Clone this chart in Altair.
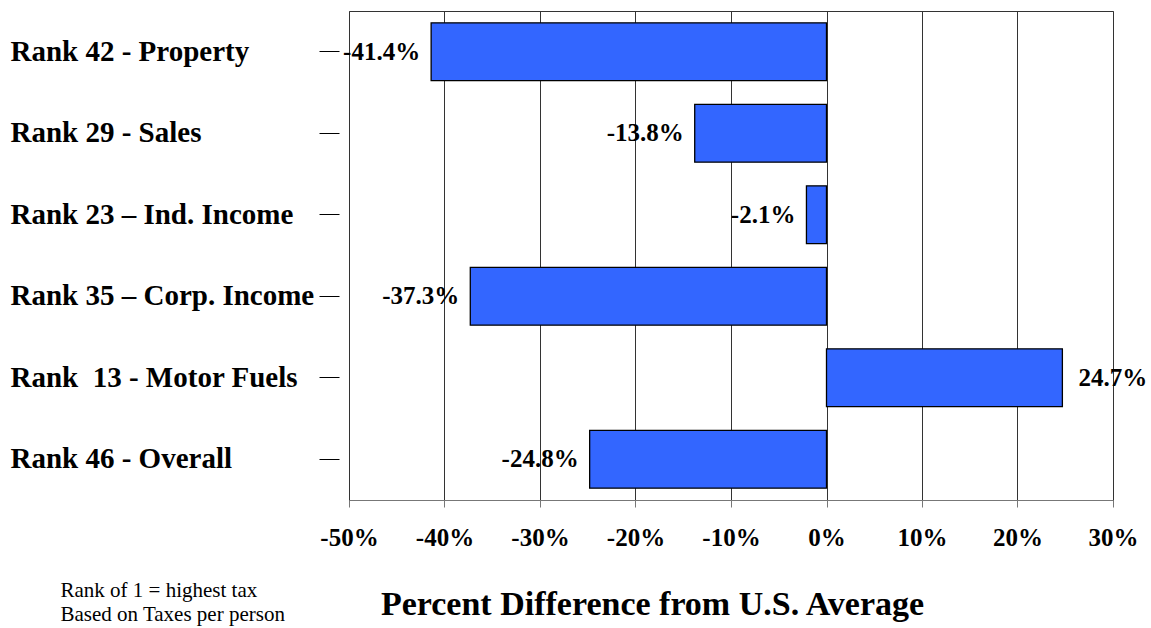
import altair as alt
import pandas as pd

categories = [
    "Rank 42 - Property",
    "Rank 29 - Sales",
    "Rank 23 \u2013 Ind. Income",
    "Rank 35 \u2013 Corp. Income",
    "Rank\u00a0 13 - Motor Fuels",
    "Rank 46 - Overall",
]
values = [-0.414, -0.138, -0.021, -0.373, 0.247, -0.248]
labels = ["-41.4%", "-13.8%", "-2.1%", "-37.3%", "24.7%", "-24.8%"]
tick_values = [-0.5, -0.4, -0.3, -0.2, -0.1, 0.0, 0.1, 0.2, 0.3]

df = pd.DataFrame({"cat": categories, "val": values, "lab": labels})

FONT = "Liberation Serif"

x = alt.X(
    "val:Q",
    scale=alt.Scale(domain=[-0.5, 0.3], nice=False, zero=False),
    axis=alt.Axis(
        values=tick_values,
        labelExpr="round(datum.value*100) + '%'",
        labelFont=FONT,
        labelFontSize=25,
        labelFontWeight="bold",
        labelColor="black",
        labelBaseline="alphabetic",
        labelPadding=38,
        labelFlush=False,
        labelOverlap=False,
        tickSize=7,
        tickColor="#777",
        domainColor="#777",
        grid=True,
        gridColor="#333",
        gridOpacity=1,
        gridWidth=1,
        title="Percent Difference from U.S. Average",
        titleFont=FONT,
        titleFontSize=34,
        titleFontWeight="bold",
        titleColor="black",
        titleX=303,
        titleY=114,
        titleAlign="center",
        titleBaseline="alphabetic",
    ),
)

y = alt.Y(
    "cat:N",
    sort=categories,
    scale=alt.Scale(paddingInner=0.29, paddingOuter=0.145),
    axis=alt.Axis(
        domain=False,
        offset=10,
        tickSize=20,
        tickColor="black",
        tickWidth=1,
        grid=False,
        labelAlign="left",
        labelPadding=309,
        labelLimit=500,
        labelFont=FONT,
        labelFontSize=29,
        labelFontWeight="bold",
        labelColor="black",
        title=["Rank of 1 = highest tax", "Based on Taxes per person"],
        titleFont=FONT,
        titleFontSize=21,
        titleFontWeight="normal",
        titleColor="black",
        titleAngle=0,
        titleAlign="left",
        titleBaseline="alphabetic",
        titleLineHeight=24,
        titleX=-279,
        titleY=585,
    ),
)

bars = alt.Chart(df).mark_bar(
    color="#3366FF", stroke="black", strokeWidth=1.3
).encode(x=x, y=y, x2=alt.datum(0))

neg = alt.Chart(df).transform_filter("datum.val < 0").mark_text(
    align="right", baseline="middle", dx=-11,
    font=FONT, fontSize=25, fontWeight="bold", color="black"
).encode(x="val:Q", y=alt.Y("cat:N", sort=categories), text="lab:N")

pos = alt.Chart(df).transform_filter("datum.val >= 0").mark_text(
    align="left", baseline="middle", dx=16,
    font=FONT, fontSize=25, fontWeight="bold", color="black"
).encode(x="val:Q", y=alt.Y("cat:N", sort=categories), text="lab:N")

chart = alt.layer(bars, neg, pos).properties(
    width=764,
    height=489,
    autosize=alt.AutoSizeParams(type="none"),
    padding={"left": 349, "top": 11, "right": 38, "bottom": 128},
    background="white",
).configure_view(
    stroke="#333", strokeWidth=1
)

chart.save("out.html", embed_options={"renderer": "svg", "actions": False})
